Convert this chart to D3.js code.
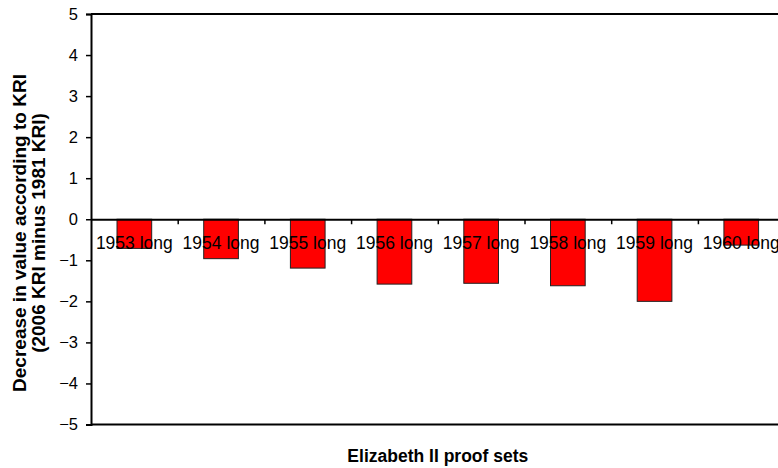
<!DOCTYPE html>
<html>
<head>
<meta charset="utf-8">
<script src="https://cdn.jsdelivr.net/npm/d3@7"></script>
<style>
  html, body { margin: 0; padding: 0; background: #fff; }
  svg { display: block; font-family: Arial, "Liberation Sans", sans-serif; }
</style>
</head>
<body>
<svg id="chart" width="778" height="468"></svg>
<script>
// Decrease in KRI value (2006 KRI minus 1981 KRI) per long proof set
const categories = ["1953 long", "1954 long", "1955 long", "1956 long",
                    "1957 long", "1958 long", "1959 long", "1960 long"];
const values = [-0.71, -0.96, -1.19, -1.58, -1.56, -1.62, -2.0, -0.63];
const yTicks = [-5, -4, -3, -2, -1, 0, 1, 2, 3, 4, 5];
const xTitle = "Elizabeth II proof sets";
const yTitleLines = ["Decrease in value according to KRI", "(2006 KRI minus 1981 KRI)"];

const svg = d3.select("#chart");
const W = 778, H = 468;
svg.append("rect").attr("width", W).attr("height", H).attr("fill", "#fff");

// plot area (the right side runs past the visible canvas)
const plotLeft = 91, plotRight = 784.6, plotTop = 14, plotBottom = 424.5;

const x = d3.scaleBand()
  .domain(categories)
  .range([plotLeft, plotRight])
  .paddingInner(0.6)
  .paddingOuter(0.3);

const y = d3.scaleLinear().domain([-5, 5]).range([plotBottom, plotTop]);

// bars
svg.append("g").selectAll("rect")
  .data(values)
  .join("rect")
  .attr("x", (d, i) => x(categories[i]))
  .attr("y", d => y(Math.max(0, d)))
  .attr("width", x.bandwidth())
  .attr("height", d => Math.abs(y(d) - y(0)))
  .attr("fill", "#ff0000")
  .attr("stroke", "#222")
  .attr("stroke-width", 1);

// top and bottom frame lines
svg.append("line").attr("x1", plotLeft).attr("x2", plotRight).attr("y1", plotTop).attr("y2", plotTop)
  .attr("stroke", "#000").attr("stroke-width", 2);
svg.append("line").attr("x1", plotLeft).attr("x2", plotRight).attr("y1", plotBottom).attr("y2", plotBottom)
  .attr("stroke", "#000").attr("stroke-width", 2);

// y axis
const yAxis = d3.axisLeft(y).tickValues(yTicks).tickSize(5).tickPadding(8)
  .tickFormat(d3.format("d"));
const gy = svg.append("g").attr("transform", `translate(${plotLeft},0)`).call(yAxis);
gy.select(".domain").attr("stroke", "#000").attr("stroke-width", 2);
gy.selectAll(".tick line").attr("stroke", "#000").attr("stroke-width", 1.5);
gy.selectAll(".tick text")
  .attr("font-size", 16.5)
  .attr("font-family", "Arial, 'Liberation Sans', sans-serif")
  .attr("fill", "#000");

// zero line with ticks at the category boundaries
const step = x.step();
const boundaries = categories.map(c => x(c) + x.bandwidth() + step * 0.3);
const boundaryScale = d3.scaleLinear().domain([plotLeft, plotRight]).range([plotLeft, plotRight]);
const xAxis = d3.axisBottom(boundaryScale).tickValues(boundaries).tickSize(5)
  .tickFormat("").tickSizeOuter(0);
const gx = svg.append("g").attr("transform", `translate(0,${y(0)})`).call(xAxis);
gx.select(".domain").attr("stroke", "#000").attr("stroke-width", 2);
gx.selectAll(".tick line").attr("stroke", "#000").attr("stroke-width", 1.5);

// category labels, drawn over the bars
svg.append("g").selectAll("text")
  .data(categories)
  .join("text")
  .attr("x", d => x(d) + x.bandwidth() / 2)
  .attr("y", y(0) + 30)
  .attr("text-anchor", "middle")
  .attr("font-size", 17.5)
  .attr("fill", "#000")
  .text(d => d);

// axis titles
svg.append("text")
  .attr("x", (plotLeft + plotRight) / 2)
  .attr("y", 462)
  .attr("text-anchor", "middle")
  .attr("font-size", 17.5)
  .attr("font-weight", "bold")
  .text(xTitle);

const yt = svg.append("text")
  .attr("transform", `translate(0,233) rotate(-90)`)
  .attr("text-anchor", "middle")
  .attr("font-size", 19)
  .attr("font-weight", "bold");
yt.selectAll("tspan")
  .data(yTitleLines)
  .join("tspan")
  .attr("x", 0)
  .attr("y", (d, i) => 26 + i * 19)
  .text(d => d);
</script>
</body>
</html>
